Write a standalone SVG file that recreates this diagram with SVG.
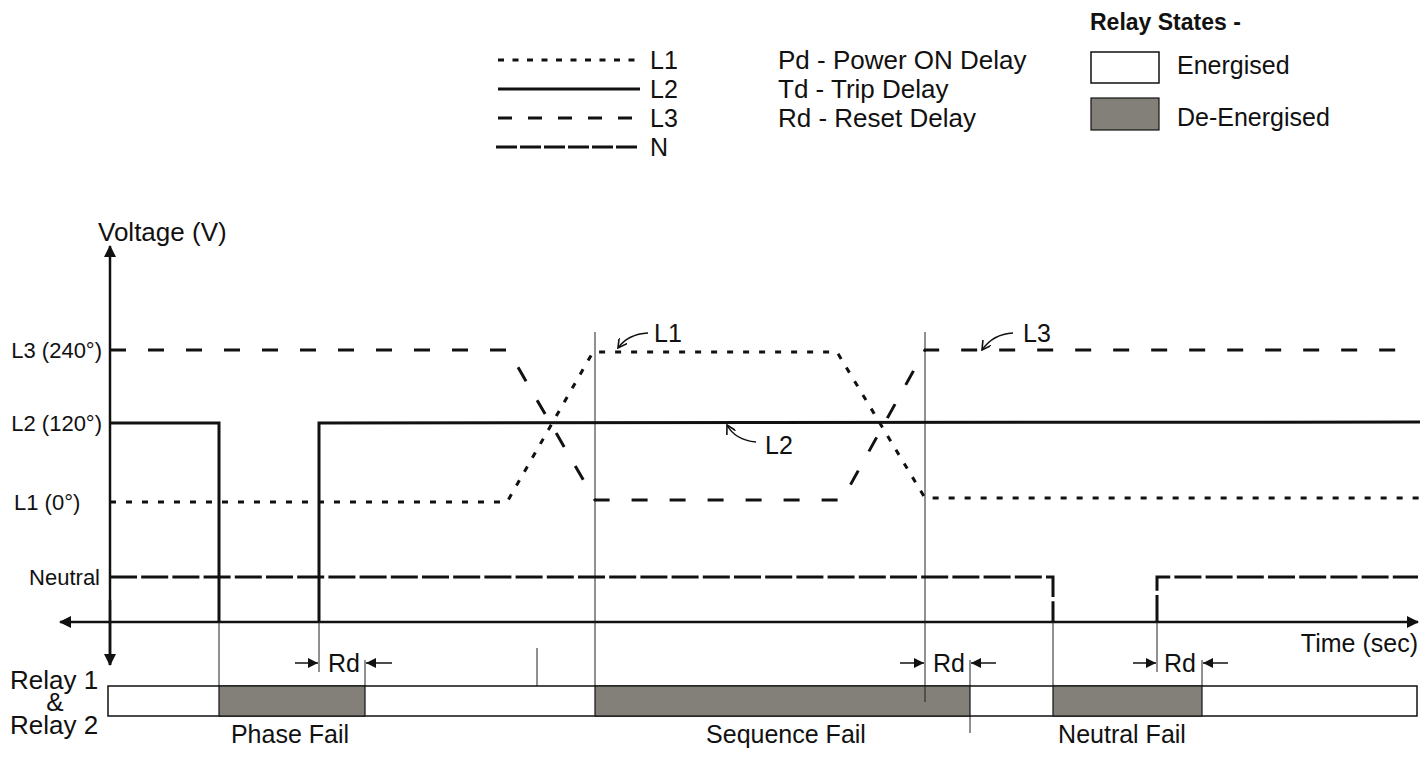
<svg xmlns="http://www.w3.org/2000/svg" width="1424" height="771" viewBox="0 0 1424 771">
<style>
text{font-family:"Liberation Sans",Arial,sans-serif;fill:#111}
.t26{font-size:26px}
.t25{font-size:25px}
.t22{font-size:22px}
.b{font-weight:bold}
.cv{fill:none;stroke:#111;stroke-width:3}
.l1{stroke-dasharray:6 10}
.l3{stroke-dasharray:16 22}
.n{stroke-dasharray:27 4.2}
.thin{stroke:#222;stroke-width:1;fill:none}
.ax{stroke:#111;stroke-width:2.5;fill:none}
.ptr{fill:none;stroke:#111;stroke-width:1.5}
.gray{fill:#837f79;stroke:#111;stroke-width:1.2}
.white{fill:#fff;stroke:#111;stroke-width:1.5}
</style>
<defs>
<marker id="ah" viewBox="0 0 12 12" refX="11" refY="6" markerWidth="12" markerHeight="12" markerUnits="userSpaceOnUse" orient="auto">
<path d="M0,0 L12,6 L0,12 Z" fill="#111"/>
</marker>
<marker id="rh" viewBox="0 0 10 10" refX="10" refY="5" markerWidth="10" markerHeight="10" markerUnits="userSpaceOnUse" orient="auto">
<path d="M0,0 L10,5 L0,10 Z" fill="#111"/>
</marker>
<marker id="oh" viewBox="0 0 10 10" refX="9" refY="5" markerWidth="10" markerHeight="10" markerUnits="userSpaceOnUse" orient="auto">
<path d="M0,0 L9,5 L0,10" fill="none" stroke="#111" stroke-width="1.6"/>
</marker>
</defs>

<g id="legend-lines">
<line class="cv" x1="498" y1="60" x2="640" y2="60" stroke-dasharray="6 8.5"/>
<text class="t25" x="650" y="69">L1</text>
<line class="cv" x1="498" y1="89" x2="640" y2="89"/>
<text class="t25" x="650" y="98">L2</text>
<line class="cv" x1="498" y1="118" x2="632" y2="118" stroke-dasharray="14 16"/>
<text class="t25" x="650" y="127">L3</text>
<line class="cv" x1="496" y1="147" x2="640" y2="147" stroke-dasharray="21 3"/>
<text class="t25" x="650" y="156">N</text>
</g>

<g id="legend-delays">
<text class="t26" x="778" y="69">Pd - Power ON Delay</text>
<text class="t26" x="778" y="98">Td - Trip Delay</text>
<text class="t26" x="778" y="127">Rd - Reset Delay</text>
</g>

<g id="legend-relay">
<text class="b" font-size="23" x="1090" y="30">Relay States -</text>
<rect class="white" x="1091" y="52" width="68" height="31"/>
<text class="t25" x="1177" y="74">Energised</text>
<rect class="gray" x="1091" y="98" width="68" height="32" stroke-width="1.5"/>
<text class="t25" x="1177" y="126">De-Energised</text>
</g>

<g id="axes">
<line class="ax" x1="110" y1="665" x2="110" y2="246" marker-end="url(#ah)"/>
<line class="ax" x1="110" y1="600" x2="110" y2="665" marker-end="url(#ah)"/>
<line class="ax" x1="110" y1="622" x2="60" y2="622" marker-end="url(#ah)"/>
<line class="ax" x1="110" y1="622" x2="1418" y2="622" marker-end="url(#ah)"/>
<text class="t26" x="98" y="241">Voltage (V)</text>
<text class="t25" x="1418" y="652" text-anchor="end">Time (sec)</text>
<text class="t22" x="102" y="358" text-anchor="end">L3 (240°)</text>
<text class="t22" x="102" y="431" text-anchor="end">L2 (120°)</text>
<text class="t22" x="14" y="510">L1 (0°)</text>
<text class="t22" x="100" y="585" text-anchor="end">Neutral</text>
</g>

<g id="connectors">
<line class="thin" x1="219" y1="622" x2="219" y2="716"/>
<line class="thin" x1="319" y1="622" x2="319" y2="672"/>
<line class="thin" x1="365" y1="660" x2="365" y2="686"/>
<line class="thin" x1="537" y1="648" x2="537" y2="686"/>
<line class="thin" x1="595" y1="332" x2="595" y2="686"/>
<line class="thin" x1="925" y1="332" x2="925" y2="702"/>
<line class="thin" x1="970" y1="660" x2="970" y2="733"/>
<line class="thin" x1="1053" y1="622" x2="1053" y2="686"/>
<line class="thin" x1="1157" y1="622" x2="1157" y2="672"/>
<line class="thin" x1="1202" y1="660" x2="1202" y2="686"/>
</g>

<g id="signal-L1">
<path class="cv l1" d="M110,502 L507,502 L593,352 L837,352 L925,498 L1420,498"/>
</g>
<g id="signal-L3">
<path class="cv l3" d="M110,350 L508,350 L595,500 L842,500 L925,350 L1405,350"/>
</g>
<g id="signal-L2">
<path class="cv" d="M110,423 L219,423 L219,622"/>
<path class="cv" d="M319,622 L319,423 L1420,422"/>
</g>
<g id="signal-N">
<path class="cv n" d="M110,577 L1053,577 L1053,622"/>
<path class="cv n" d="M1157,622 L1157,577 L1418,577"/>
</g>

<g id="label-L1">
<path class="ptr" d="M648,333 Q628,334 618,348" marker-end="url(#oh)"/>
<text class="t25" x="654" y="342">L1</text>
</g>
<g id="label-L2">
<path class="ptr" d="M756,442 Q735,440 727,425" marker-end="url(#oh)"/>
<text class="t25" x="765" y="454">L2</text>
</g>
<g id="label-L3">
<path class="ptr" d="M1013,333 Q993,334 982,350" marker-end="url(#oh)"/>
<text class="t25" x="1023" y="342">L3</text>
</g>

<g id="relay-bar">
<rect class="white" x="108" y="686" width="1309" height="30"/>
<rect class="gray" x="219" y="686" width="146" height="30"/>
<rect class="gray" x="595" y="686" width="375" height="30"/>
<rect class="gray" x="1053" y="686" width="149" height="30"/>
<line class="thin" x1="925" y1="686" x2="925" y2="702"/>
</g>

<g id="relay-labels">
<text class="t26" x="10" y="689">Relay 1</text>
<text class="t26" x="55" y="711" text-anchor="middle">&amp;</text>
<text class="t26" x="10" y="734">Relay 2</text>
<text class="t25" x="290" y="743" text-anchor="middle">Phase Fail</text>
<text class="t25" x="786" y="743" text-anchor="middle">Sequence Fail</text>
<text class="t25" x="1122" y="743" text-anchor="middle">Neutral Fail</text>
</g>

<g id="rd-phase">
<line class="ptr" x1="295" y1="663" x2="318" y2="663" marker-end="url(#rh)"/>
<text class="t25" x="328" y="672">Rd</text>
<line class="ptr" x1="392" y1="663" x2="366" y2="663" marker-end="url(#rh)"/>
</g>
<g id="rd-sequence">
<line class="ptr" x1="900" y1="663" x2="924" y2="663" marker-end="url(#rh)"/>
<text class="t25" x="933" y="672">Rd</text>
<line class="ptr" x1="996" y1="663" x2="971" y2="663" marker-end="url(#rh)"/>
</g>
<g id="rd-neutral">
<line class="ptr" x1="1133" y1="663" x2="1156" y2="663" marker-end="url(#rh)"/>
<text class="t25" x="1164" y="672">Rd</text>
<line class="ptr" x1="1228" y1="663" x2="1203" y2="663" marker-end="url(#rh)"/>
</g>
</svg>
